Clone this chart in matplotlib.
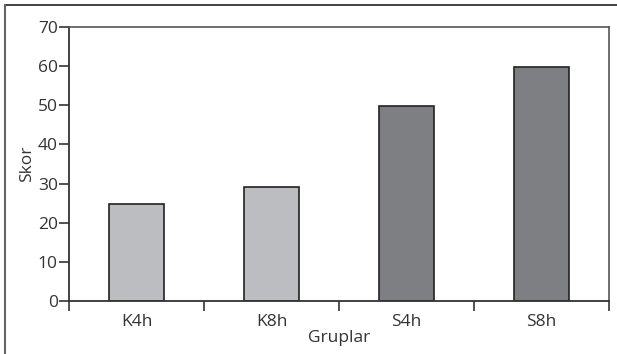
import matplotlib.pyplot as plt
from matplotlib.lines import Line2D

groups = ['K4h', 'K8h', 'S4h', 'S8h']
scores = [24.7, 29.0, 49.8, 59.7]
bar_colors = ['#bcbdc1', '#bcbdc1', '#7e7f83', '#7e7f83']

text_color = '#333333'
plt.rcParams['font.family'] = ['Open Sans', 'DejaVu Sans']
plt.rcParams['font.size'] = 12.5

fig = plt.figure(figsize=(6.17, 3.54), dpi=100)
ax = fig.add_axes([69 / 617, 1 - 301 / 354, 540 / 617, 274 / 354])

x = range(len(groups))
ax.bar(x, scores, width=0.41, color=bar_colors, edgecolor='#222222', linewidth=1.2)

ax.set_xlim(-0.5, len(groups) - 0.5)
ax.set_ylim(0, 70)
ax.set_yticks(range(0, 71, 10))
ax.set_xticks(list(x))
ax.set_xticklabels(groups, color=text_color)
ax.set_xticks([i - 0.5 for i in range(len(groups) + 1)], minor=True)
ax.tick_params(axis='x', which='major', length=0, pad=9)
ax.tick_params(axis='x', which='minor', length=7, width=1.2, color='#333333', direction='out')
ax.tick_params(axis='y', length=7, width=1.2, color='#333333', pad=1, labelcolor=text_color)

for side in ['left', 'bottom']:
    ax.spines[side].set_color('#333333')
    ax.spines[side].set_linewidth(1.3)
for side in ['top', 'right']:
    ax.spines[side].set_color('#555555')
    ax.spines[side].set_linewidth(1.2)

ax.set_xlabel('Gruplar', color=text_color, labelpad=0)
ax.set_ylabel('Skor', color=text_color, labelpad=2)

# outer frame around the figure (top and left only)
fig.add_artist(Line2D([5 / 617, 1], [1 - 5 / 354, 1 - 5 / 354], color='#333333', lw=1.3,
                      transform=fig.transFigure))
fig.add_artist(Line2D([5 / 617, 5 / 617], [0, 1 - 5 / 354], color='#666666', lw=1.5,
                      transform=fig.transFigure))

fig.savefig('out.png', dpi=100)
